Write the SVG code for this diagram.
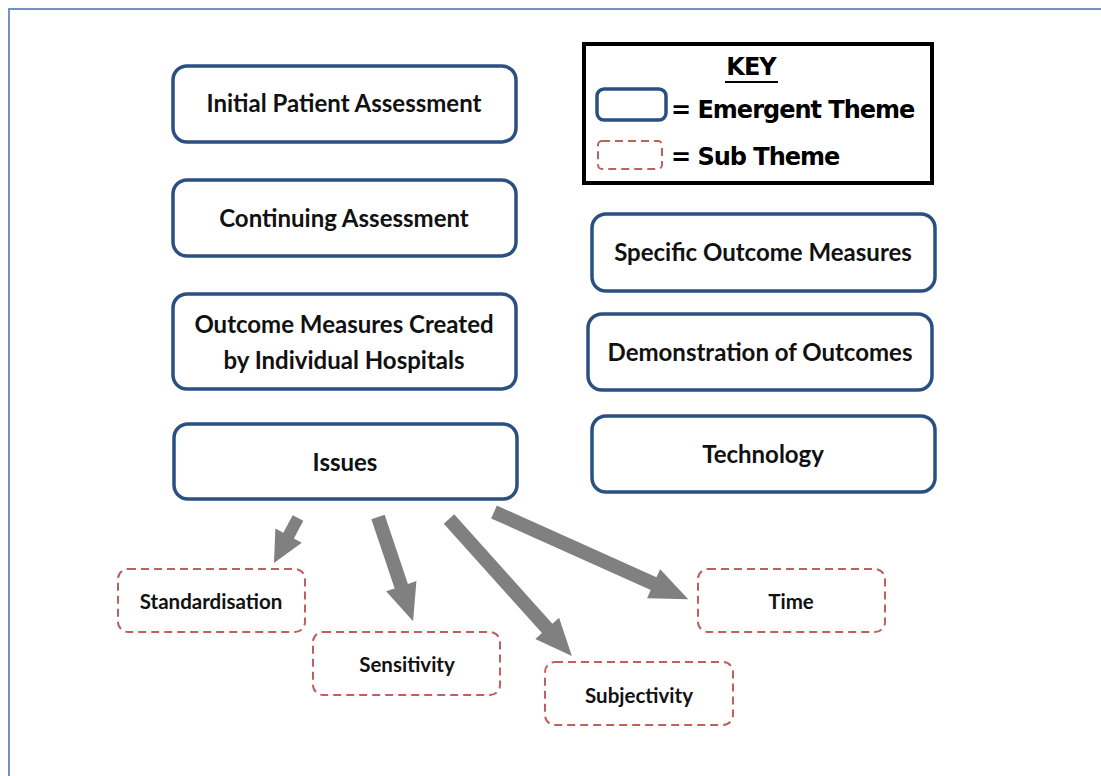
<svg xmlns="http://www.w3.org/2000/svg" width="1101" height="776" viewBox="0 0 1101 776">
  <style>
    .frame { stroke: #6f93c8; stroke-width: 2; fill: none; }
    .theme { fill: #ffffff; stroke: #2a5082; stroke-width: 3.5; }
    .sub { fill: #ffffff; stroke: #c0605e; stroke-width: 2; stroke-dasharray: 8 5; }
    .label { font-family: Lato, "Liberation Sans", sans-serif; font-weight: 700; fill: #111111; text-anchor: middle; }
    .big { font-size: 24px; }
    .small { font-size: 20.5px; }
    .key { font-family: "DejaVu Sans", Lato, sans-serif; font-weight: 700; fill: #000000; font-size: 24px; letter-spacing: -1px; }
    .arrow { fill: #808080; }
  </style>

  <rect width="1101" height="776" fill="#ffffff"/>

  <!-- page frame: top and left rules -->
  <path class="frame" d="M9,776 L9,9 L1101,9"/>

  <!-- legend -->
  <g id="key">
    <rect x="584" y="44" width="348" height="139" fill="#ffffff" stroke="#000000" stroke-width="4"/>
    <text class="key" x="751" y="75" text-anchor="middle">KEY</text>
    <line x1="725" y1="82" x2="778" y2="82" stroke="#000000" stroke-width="2"/>
    <rect class="theme" x="597" y="89" width="69" height="31" rx="7"/>
    <text class="key" x="671" y="118">= Emergent Theme</text>
    <rect class="sub" x="598" y="141" width="64" height="28" rx="4"/>
    <text class="key" x="671" y="165">= Sub Theme</text>
  </g>

  <!-- emergent themes -->
  <g id="initial-patient-assessment">
    <rect class="theme" x="173" y="66" width="343" height="76" rx="14"/>
    <text class="label big" x="344" y="112">Initial Patient Assessment</text>
  </g>
  <g id="continuing-assessment">
    <rect class="theme" x="173" y="180" width="343" height="76" rx="14"/>
    <text class="label big" x="344" y="227">Continuing Assessment</text>
  </g>
  <g id="outcome-measures-created">
    <rect class="theme" x="173" y="294" width="343" height="95" rx="14"/>
    <text class="label big" x="344" y="333">Outcome Measures Created</text>
    <text class="label big" x="344" y="369">by Individual Hospitals</text>
  </g>
  <g id="issues">
    <rect class="theme" x="174" y="424" width="343" height="75" rx="14"/>
    <text class="label big" x="345" y="471">Issues</text>
  </g>
  <g id="specific-outcome-measures">
    <rect class="theme" x="592" y="214" width="343" height="77" rx="14"/>
    <text class="label big" x="763" y="261">Specific Outcome Measures</text>
  </g>
  <g id="demonstration-of-outcomes">
    <rect class="theme" x="588" y="314" width="344" height="76" rx="14"/>
    <text class="label big" x="760" y="361">Demonstration of Outcomes</text>
  </g>
  <g id="technology">
    <rect class="theme" x="592" y="416" width="343" height="76" rx="14"/>
    <text class="label big" x="763" y="463">Technology</text>
  </g>

  <!-- sub themes -->
  <g id="standardisation">
    <rect class="sub" x="118" y="569" width="187" height="63" rx="10"/>
    <text class="label small" x="211" y="609">Standardisation</text>
  </g>
  <g id="sensitivity">
    <rect class="sub" x="313" y="632" width="187" height="63" rx="10"/>
    <text class="label small" x="407" y="672">Sensitivity</text>
  </g>
  <g id="subjectivity">
    <rect class="sub" x="545" y="662" width="188" height="63" rx="10"/>
    <text class="label small" x="639" y="703">Subjectivity</text>
  </g>
  <g id="time">
    <rect class="sub" x="698" y="569" width="187" height="63" rx="10"/>
    <text class="label small" x="791" y="609">Time</text>
  </g>

  <!-- block arrows from Issues to its sub themes -->
  <g id="connectors">
    <path class="arrow" transform="translate(298,518) rotate(118.1)" d="M0,-6 L20,-6 L20,-15 L51,0 L20,15 L20,6 L0,6 Z"/>
    <path class="arrow" transform="translate(378,517) rotate(71.4)" d="M0,-7 L73,-7 L73,-16 L110,0 L73,16 L73,7 L0,7 Z"/>
    <path class="arrow" transform="translate(449,519) rotate(48.1)" d="M0,-7 L147,-7 L147,-16 L184,0 L147,16 L147,7 L0,7 Z"/>
    <path class="arrow" transform="translate(494,512) rotate(24.2)" d="M0,-7 L175,-7 L175,-16 L213,0 L175,16 L175,7 L0,7 Z"/>
  </g>
</svg>
